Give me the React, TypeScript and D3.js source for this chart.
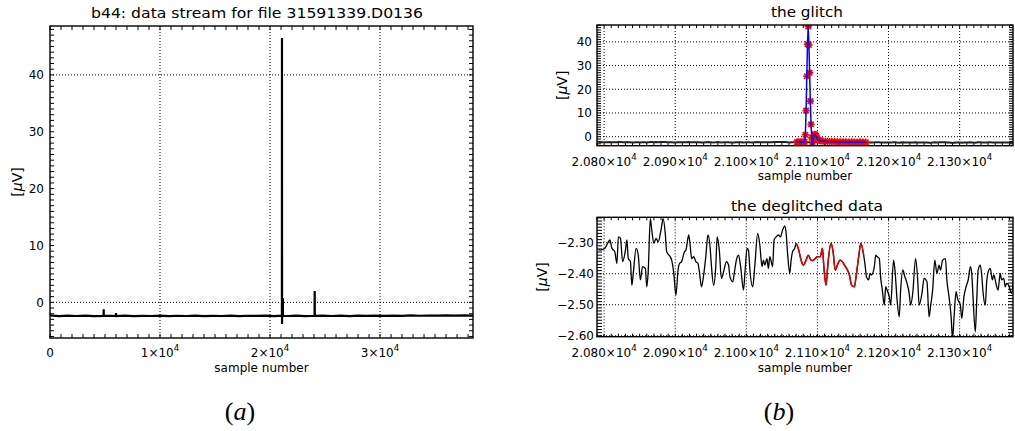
import React from "react";
import * as d3 from "d3";

// ---------- data ----------
// (a) full data stream (key samples of the noisy baseline and spikes)
const streamX = [0, 800, 1600, 2400, 3200, 4000, 4870, 4880, 4890, 5600, 5990, 6000, 6010, 6800, 7600, 8400, 9200, 10000, 10800, 11600, 12400, 13200, 14000, 14800, 15600, 16400, 17200, 18000, 18800, 19600, 20400, 21080, 21087, 21093, 21100, 21165, 21170, 21175, 21600, 22400, 23200, 24050, 24060, 24070, 24800, 25600, 26400, 27200, 28000, 28800, 29600, 30400, 31200, 32000, 32800, 33600, 34400, 35200, 36000, 36800, 37600, 38450];
const streamY = [-2.30, -2.42, -2.35, -2.40, -2.33, -2.41, -2.38, -1.2, -2.38, -2.36, -2.40, -1.9, -2.40, -2.34, -2.42, -2.37, -2.40, -2.33, -2.41, -2.36, -2.40, -2.34, -2.43, -2.37, -2.40, -2.35, -2.42, -2.36, -2.39, -2.33, -2.41, -2.35, 46.5, -3.8, -2.37, -2.35, 0.7, -2.38, -2.40, -2.34, -2.41, -2.36, 2.0, -2.38, -2.33, -2.40, -2.35, -2.41, -2.34, -2.38, -2.32, -2.39, -2.33, -2.37, -2.30, -2.36, -2.31, -2.35, -2.28, -2.33, -2.30, -2.32];

// (b, top) glitch samples
const glitchX = [21071, 21073, 21075, 21077, 21079, 21081, 21082, 21083, 21084, 21085, 21086, 21087, 21088, 21089, 21090, 21091, 21092, 21093, 21094, 21095, 21096, 21097, 21098, 21099, 21100, 21101, 21103, 21105, 21108, 21111, 21114, 21117, 21120, 21124, 21128, 21132, 21136, 21140, 21144, 21148, 21152, 21156, 21160, 21164, 21168];
const glitchY = [-2.3, -2.2, -2.3, -2.2, -2.3, -2.2, -2.2, 0.8, 11, 25.5, 39, 46.5, 38.7, 27, 15, 5.2, -0.5, -3.6, -1.2, 0.6, 1.0, 0.9, 0.4, -0.3, -0.9, -1.3, -1.6, -1.8, -1.9, -2.0, -2.0, -2.1, -2.1, -2.1, -2.2, -2.2, -2.2, -2.2, -2.3, -2.2, -2.3, -2.3, -2.2, -2.3, -2.3];

// (b, bottom) deglitched data
const cleanX = [20792, 20794, 20801, 20806, 20808, 20811, 20815, 20818, 20820, 20823, 20826, 20830, 20832, 20834, 20837, 20839, 20841, 20845, 20848, 20851, 20854, 20858, 20860, 20862, 20865, 20867, 20870, 20873, 20876, 20880, 20883, 20886, 20888, 20893, 20895, 20898, 20901, 20904, 20906, 20909, 20913, 20915, 20919, 20921, 20923, 20926, 20929, 20932, 20934, 20937, 20940, 20943, 20946, 20949, 20951, 20954, 20957, 20959, 20962, 20965, 20968, 20972, 20975, 20977, 20981, 20983, 20986, 20989, 20992, 20996, 20998, 21001, 21003, 21005, 21009, 21012, 21016, 21019, 21022, 21024, 21026, 21029, 21031, 21033, 21037, 21039, 21042, 21045, 21048, 21051, 21054, 21056, 21058, 21061, 21063, 21065, 21068, 21070, 21073, 21077, 21080, 21084, 21087, 21091, 21093, 21097, 21100, 21104, 21107, 21109, 21112, 21115, 21119, 21122, 21125, 21128, 21132, 21135, 21138, 21141, 21145, 21148, 21152, 21154, 21158, 21161, 21165, 21167, 21169, 21172, 21174, 21176, 21180, 21182, 21184, 21187, 21189, 21191, 21194, 21196, 21198, 21201, 21203, 21207, 21209, 21212, 21215, 21217, 21220, 21223, 21226, 21229, 21231, 21234, 21238, 21241, 21243, 21247, 21250, 21254, 21257, 21259, 21262, 21265, 21268, 21271, 21273, 21276, 21280, 21282, 21285, 21288, 21290, 21292, 21295, 21297, 21301, 21303, 21306, 21309, 21312, 21315, 21317, 21319, 21322, 21324, 21326, 21329, 21331, 21333, 21336, 21338, 21341, 21343, 21346, 21348, 21351, 21354, 21357, 21359, 21362, 21364, 21366, 21369, 21371, 21373, 21376];
const cleanY = [-2.322, -2.324, -2.318, -2.297, -2.291, -2.318, -2.329, -2.367, -2.281, -2.286, -2.361, -2.324, -2.291, -2.351, -2.361, -2.437, -2.399, -2.318, -2.340, -2.420, -2.377, -2.383, -2.442, -2.394, -2.222, -2.259, -2.302, -2.286, -2.297, -2.259, -2.222, -2.270, -2.329, -2.345, -2.356, -2.399, -2.469, -2.388, -2.367, -2.361, -2.329, -2.324, -2.275, -2.308, -2.351, -2.345, -2.361, -2.367, -2.394, -2.442, -2.404, -2.345, -2.275, -2.313, -2.377, -2.437, -2.377, -2.281, -2.324, -2.415, -2.394, -2.361, -2.372, -2.410, -2.426, -2.399, -2.356, -2.340, -2.377, -2.453, -2.399, -2.318, -2.324, -2.388, -2.442, -2.372, -2.270, -2.308, -2.377, -2.356, -2.372, -2.351, -2.383, -2.345, -2.377, -2.291, -2.281, -2.275, -2.281, -2.259, -2.246, -2.270, -2.334, -2.399, -2.356, -2.329, -2.318, -2.302, -2.318, -2.356, -2.372, -2.356, -2.340, -2.356, -2.358, -2.351, -2.345, -2.345, -2.318, -2.377, -2.437, -2.361, -2.302, -2.329, -2.388, -2.372, -2.356, -2.361, -2.372, -2.383, -2.404, -2.437, -2.442, -2.415, -2.345, -2.302, -2.340, -2.372, -2.410, -2.420, -2.399, -2.404, -2.377, -2.340, -2.345, -2.351, -2.415, -2.447, -2.501, -2.442, -2.453, -2.474, -2.501, -2.356, -2.388, -2.485, -2.539, -2.453, -2.388, -2.410, -2.431, -2.463, -2.501, -2.463, -2.351, -2.420, -2.501, -2.463, -2.415, -2.426, -2.539, -2.506, -2.453, -2.356, -2.399, -2.372, -2.388, -2.356, -2.351, -2.420, -2.474, -2.539, -2.610, -2.544, -2.458, -2.480, -2.501, -2.544, -2.474, -2.442, -2.420, -2.377, -2.399, -2.485, -2.587, -2.485, -2.388, -2.372, -2.404, -2.463, -2.501, -2.426, -2.388, -2.383, -2.420, -2.404, -2.431, -2.453, -2.399, -2.420, -2.415, -2.442, -2.431, -2.437, -2.453, -2.463, -2.399];
const replacedRange = [21070, 21165];

// ---------- ticks ----------
const streamXTicks = [0, 10000, 20000, 30000];
const streamXTickLabels = ["0", "1×10^4", "2×10^4", "3×10^4"];
const streamYTicks = [0, 10, 20, 30, 40];
const streamYTickLabels = ["0", "10", "20", "30", "40"];
const streamYGrid = [0, 40];
const zoomXTicks = [20800, 20900, 21000, 21100, 21200, 21300];
const zoomXTickLabels = ["2.080×10^4", "2.090×10^4", "2.100×10^4", "2.110×10^4", "2.120×10^4", "2.130×10^4"];
const glitchYTicks = [0, 10, 20, 30, 40];
const glitchYTickLabels = ["0", "10", "20", "30", "40"];
const cleanYTicks = [-2.3, -2.4, -2.5, -2.6];
const cleanYTickLabels = ["−2.30", "−2.40", "−2.50", "−2.60"];

const FONT = "DejaVu Sans";

function TickText({ x, y, text, anchor, size }: any) {
  const [m, e] = text.split("^");
  return (
    <text x={x} y={y} textAnchor={anchor} fontSize={size} fontFamily={FONT} fill="#000">
      {m}
      {e ? <tspan dy={-6} fontSize={size * 0.72}>{e}</tspan> : null}
    </text>
  );
}

function range(d0: number, d1: number, step: number) {
  const a = Math.ceil(d0 / step - 1e-9);
  const b = Math.floor(d1 / step + 1e-9);
  return d3.range(a, b + 1).map((i) => i * step);
}

function Panel(p: any) {
  const { id, box, xDomain, yDomain, xMinor, yMinor, xLen, yLen, xGrid, yGrid, xTicks, xTickLabels, yTicks, yTickLabels, title, titleX, titleY, titleSize, titleLen, xTickY, xLabelY, yTickEnd, yLabelX, render } = p;
  const x = d3.scaleLinear().domain(xDomain).range([box.l, box.r]);
  const y = d3.scaleLinear().domain(yDomain).range([box.b, box.t]);
  const xm = range(xDomain[0], xDomain[1], xMinor);
  const ym = range(yDomain[0], yDomain[1], yMinor);
  const cx = (box.l + box.r) / 2;
  const cy = (box.t + box.b) / 2;
  return (
    <g>
      <defs>
        <clipPath id={id}>
          <rect x={box.l} y={box.t} width={box.r - box.l} height={box.b - box.t} />
        </clipPath>
      </defs>
      <g stroke="#000" strokeWidth={1} strokeDasharray="1 2" fill="none">
        {xGrid.map((v: number) => (
          <line key={"gx" + v} x1={x(v)} x2={x(v)} y1={box.t} y2={box.b} />
        ))}
        {yGrid.map((v: number) => (
          <line key={"gy" + v} x1={box.l} x2={box.r} y1={y(v)} y2={y(v)} />
        ))}
      </g>
      <g stroke="#000" strokeWidth={1}>
        {xm.map((v: number) => (
          <g key={"xm" + v}>
            <line x1={x(v)} x2={x(v)} y1={box.b} y2={box.b - xLen} />
            <line x1={x(v)} x2={x(v)} y1={box.t} y2={box.t + xLen} />
          </g>
        ))}
        {ym.map((v: number) => (
          <g key={"ym" + v}>
            <line x1={box.l} x2={box.l + yLen} y1={y(v)} y2={y(v)} />
            <line x1={box.r} x2={box.r - yLen} y1={y(v)} y2={y(v)} />
          </g>
        ))}
      </g>
      <g clipPath={`url(#${id})`}>{render(x, y)}</g>
      <rect x={box.l} y={box.t} width={box.r - box.l} height={box.b - box.t} fill="none" stroke="#000" strokeWidth={1.4} />
      {xTicks.map((v: number, i: number) => (
        <TickText key={"xt" + v} x={x(v)} y={xTickY} text={xTickLabels[i]} anchor="middle" size={12} />
      ))}
      {yTicks.map((v: number, i: number) => (
        <TickText key={"yt" + v} x={yTickEnd} y={y(v) + 4.5} text={yTickLabels[i]} anchor="end" size={12} />
      ))}
      <text x={titleX} y={titleY} textAnchor="middle" fontSize={titleSize} fontFamily={FONT} textLength={titleLen} lengthAdjust="spacingAndGlyphs">{title}</text>
      <text x={cx} y={xLabelY} textAnchor="middle" fontSize={12} fontFamily={FONT}>sample number</text>
      <text transform={`translate(${yLabelX},${cy}) rotate(-90)`} textAnchor="middle" dy={5} fontSize={14} fontFamily={FONT}>
        [<tspan fontStyle="italic">μ</tspan>V]
      </text>
    </g>
  );
}

function starPath(px: number, py: number, r: number) {
  const d = r * 0.75;
  return `M${px - r},${py}L${px + r},${py}M${px},${py - r}L${px},${py + r}M${px - d},${py - d}L${px + d},${py + d}M${px - d},${py + d}L${px + d},${py - d}`;
}

export default function App() {
  const streamPts = streamX.map((v, i) => [v, streamY[i]]);
  const glitchPts = glitchX.map((v, i) => [v, glitchY[i]]);
  const cleanPts = cleanX.map((v, i) => [v, cleanY[i]]);
  const redPts = cleanPts.filter((p) => p[0] >= replacedRange[0] && p[0] <= replacedRange[1]);

  return (
    <svg width={1015} height={431} style={{ position: "absolute", left: 0, top: 0, background: "#fff" }}>
      <rect width={1015} height={431} fill="#fff" />
      <Panel
        id="clipA"
        box={{ l: 50, r: 473, t: 26, b: 338 }}
        xDomain={[0, 38450]}
        yDomain={[-6.27, 48.6]}
        xMinor={1000}
        yMinor={1}
        xLen={4}
        yLen={4}
        xGrid={streamXTicks.slice(1)}
        yGrid={streamYGrid}
        xTicks={streamXTicks}
        xTickLabels={streamXTickLabels}
        yTicks={streamYTicks}
        yTickLabels={streamYTickLabels}
        title="b44: data stream for file 31591339.D0136"
        titleX={257}
        titleY={18}
        titleSize={14}
        titleLen={332}
        xTickY={357}
        xLabelY={372}
        yTickEnd={44}
        yLabelX={17}
        render={(x: any, y: any) => {
          const line = d3.line().x((d: any) => x(d[0])).y((d: any) => y(d[1]));
          return <path d={line(streamPts as any) || ""} fill="none" stroke="#000" strokeWidth={2.2} />;
        }}
      />
      <Panel
        id="clipB1"
        box={{ l: 597, r: 1013, t: 25, b: 145.7 }}
        xDomain={[20790, 21375]}
        yDomain={[-3.8, 47.1]}
        xMinor={10}
        yMinor={1}
        xLen={3}
        yLen={4}
        xGrid={zoomXTicks}
        yGrid={glitchYTicks}
        xTicks={zoomXTicks}
        xTickLabels={zoomXTickLabels}
        yTicks={glitchYTicks}
        yTickLabels={glitchYTickLabels}
        title="the glitch"
        titleX={807}
        titleY={17}
        titleSize={13.5}
        titleLen={72}
        xTickY={165.5}
        xLabelY={180}
        yTickEnd={592}
        yLabelX={562}
        render={(x: any, y: any) => {
          const line = d3.line().x((d: any) => x(d[0])).y((d: any) => y(d[1]));
          return (
            <g>
              <path d={line(cleanPts as any) || ""} fill="none" stroke="#222" strokeWidth={2} />
              <path d={glitchPts.map((p) => starPath(x(p[0]), y(p[1]), 3.6)).join("")} fill="none" stroke="#ff0000" strokeWidth={1.6} />
              <path d={line(glitchPts as any) || ""} fill="none" stroke="#0000ff" strokeWidth={1.5} />
            </g>
          );
        }}
      />
      <Panel
        id="clipB2"
        box={{ l: 597, r: 1013, t: 217.3, b: 336.7 }}
        xDomain={[20790, 21375]}
        yDomain={[-2.603, -2.218]}
        xMinor={10}
        yMinor={0.01}
        xLen={3}
        yLen={5}
        xGrid={zoomXTicks}
        yGrid={cleanYTicks}
        xTicks={zoomXTicks}
        xTickLabels={zoomXTickLabels}
        yTicks={cleanYTicks}
        yTickLabels={cleanYTickLabels}
        title="the deglitched data"
        titleX={807}
        titleY={211}
        titleSize={13.5}
        titleLen={152}
        xTickY={357}
        xLabelY={372}
        yTickEnd={594}
        yLabelX={542}
        render={(x: any, y: any) => {
          const line = d3.line().curve(d3.curveMonotoneX).x((d: any) => x(d[0])).y((d: any) => y(d[1]));
          return (
            <g>
              <path d={line(cleanPts as any) || ""} fill="none" stroke="#000" strokeWidth={1.3} />
              <path d={line(redPts as any) || ""} fill="none" stroke="#e00000" strokeWidth={1.5} />
            </g>
          );
        }}
      />
      <text x={240} y={420} textAnchor="middle" fontSize={26} fontFamily="Liberation Serif">
        (<tspan fontStyle="italic">a</tspan>)
      </text>
      <text x={779} y={420} textAnchor="middle" fontSize={26} fontFamily="Liberation Serif">
        (<tspan fontStyle="italic">b</tspan>)
      </text>
    </svg>
  );
}
